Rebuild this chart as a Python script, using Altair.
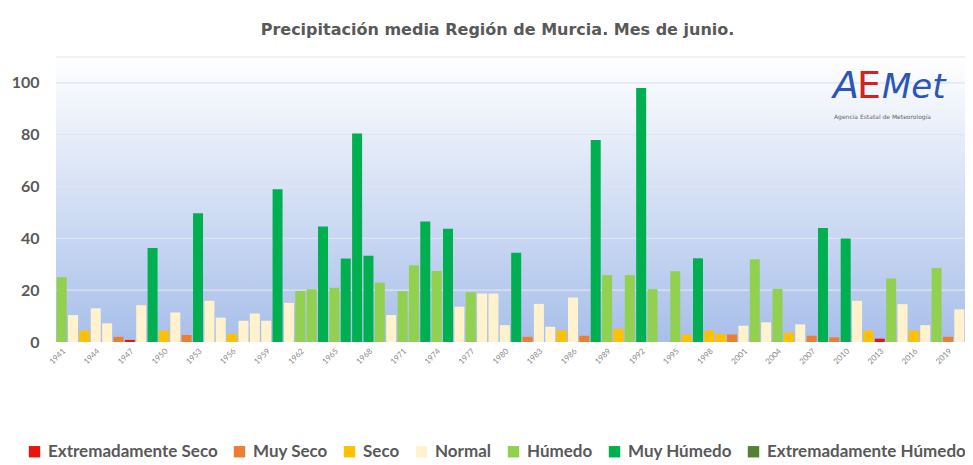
import altair as alt
import pandas as pd

# ---- data ----
years = list(range(1941, 2021))
precip = [25, 10.4, 4.4, 13, 7.2, 2, 0.8, 14.2, 36.3, 4.4,
          11.4, 2.7, 49.7, 15.9, 9.4, 3.1, 8.2, 11, 8.2, 59,
          15.1, 19.7, 20.4, 44.6, 20.9, 32.2, 80.5, 33.3, 22.9, 10.4,
          19.6, 29.6, 46.5, 27.4, 43.7, 13.6, 19.2, 18.7, 18.7, 6.5,
          34.4, 2, 14.7, 5.9, 4.4, 17.2, 2.4, 78, 25.8, 5.1,
          25.8, 98, 20.4, 0, 27.3, 2.9, 32.3, 4.4, 3.1, 2.9,
          6.3, 31.9, 7.6, 20.5, 3.6, 6.8, 2.4, 44, 1.8, 39.9,
          15.9, 4.4, 1.3, 24.5, 14.6, 4.4, 6.5, 28.6, 2, 12.6]
clase = ["H", "N", "S", "N", "N", "MS", "ES", "N", "MH", "S",
         "N", "MS", "MH", "N", "N", "S", "N", "N", "N", "MH",
         "N", "H", "H", "MH", "H", "MH", "MH", "MH", "H", "N",
         "H", "H", "MH", "H", "MH", "N", "H", "N", "N", "N",
         "MH", "MS", "N", "N", "S", "N", "MS", "MH", "H", "S",
         "H", "MH", "H", "ES", "H", "S", "MH", "S", "S", "MS",
         "N", "H", "N", "H", "S", "N", "MS", "MH", "MS", "MH",
         "N", "S", "ES", "H", "N", "S", "N", "H", "MS", "N"]
codes = ["ES", "MS", "S", "N", "H", "MH", "EH"]
categories = ["Extremadamente Seco", "Muy Seco", "Seco", "Normal",
              "Húmedo", "Muy Húmedo", "Extremadamente Húmedo"]
colors = ["#e8140e", "#ed7d31", "#ffc000", "#fff2cc",
          "#92d050", "#00b050", "#548235"]
y_ticks = [0, 20, 40, 60, 80, 100]
grid_lines = [20, 40, 60, 80, 100, 110]
x_ticks = years[::3]
title_text = "Precipitación media Región de Murcia. Mes de junio."
logo_parts = ["A", "E", "Met", "Agencia Estatal de Meteorología"]

names = dict(zip(codes, categories))
df = pd.DataFrame({"year": years, "precip": precip,
                   "clase": [names[c] for c in clase]})

W, H = 909, 285
one = pd.DataFrame({"k": [0]})

grad = alt.LinearGradient(
    gradient="linear",
    stops=[alt.GradientStop(color="#ffffff", offset=0),
           alt.GradientStop(color="#a8bfea", offset=1)],
    x1=0, x2=0, y1=0, y2=1)

yscale = alt.Scale(domain=[0, 110], nice=False)
yaxis = alt.Axis(values=y_ticks, labelFont="Lato", labelFontSize=16,
                 labelFontWeight="bold", labelColor="#595959",
                 domain=False, ticks=False, labelPadding=17, grid=False)

bg = alt.Chart(one).mark_rect(color=grad).encode(
    x=alt.value(0), x2=alt.value(W), y=alt.value(0), y2=alt.value(H))

grid = alt.Chart(pd.DataFrame({"v": grid_lines})).mark_rule(
    color="#dde4ef", strokeWidth=1.2
).encode(y=alt.Y("v:Q", title=None, scale=yscale, axis=yaxis))

bars = alt.Chart(df).mark_bar().encode(
    x=alt.X("year:O", title=None,
            scale=alt.Scale(paddingInner=0.12, paddingOuter=0.06),
            axis=alt.Axis(values=x_ticks, labelAngle=315, labelAlign="right",
                          labelBaseline="top", labelFontSize=8,
                          labelFont="Lato", labelColor="#8a8a8a",
                          domain=False, ticks=False, labelPadding=5,
                          grid=False)),
    y=alt.Y("precip:Q", title=None, scale=yscale, axis=yaxis),
    color=alt.Color("clase:N",
                    scale=alt.Scale(domain=categories, range=colors),
                    legend=alt.Legend(title=None, orient="none",
                                      legendX=-30, legendY=386,
                                      direction="horizontal",
                                      symbolType="square",
                                      symbolSize=130, symbolStrokeWidth=0,
                                      labelFont="Lato", labelFontSize=17,
                                      labelFontWeight="bold",
                                      labelLimit=400,
                                      labelColor="#595959",
                                      columnPadding=13, labelOffset=5)),
)

logo_a = alt.Chart(one).mark_text(
    text=logo_parts[0], font="DejaVu Sans", fontSize=38, fontStyle="italic",
    color="#2b55b8", align="left", baseline="alphabetic"
).encode(x=alt.value(777), y=alt.value(41))
logo_e = alt.Chart(one).mark_text(
    text=logo_parts[1], font="DejaVu Sans", fontSize=38,
    color="#d2231e", align="left", baseline="alphabetic"
).encode(x=alt.value(801), y=alt.value(41))
logo_m = alt.Chart(one).mark_text(
    text=logo_parts[2], font="DejaVu Sans", fontSize=34, fontStyle="italic",
    color="#2b55b8", align="left", baseline="alphabetic"
).encode(x=alt.value(826), y=alt.value(41))
logo_s = alt.Chart(one).mark_text(
    text=logo_parts[3], font="DejaVu Sans", fontSize=6,
    color="#666666", align="left", baseline="middle"
).encode(x=alt.value(778), y=alt.value(60))

chart = alt.layer(bg, grid, bars, logo_a, logo_e, logo_m, logo_s).properties(
    width=W, height=H,
    autosize=alt.AutoSizeParams(type="none"),
    padding={"left": 48, "top": 49, "right": 0, "bottom": 118},
    title=alt.Title(title_text, font="DejaVu Sans", fontSize=16,
                    fontWeight="bold", color="#595959", anchor="middle",
                    offset=18, dx=-13),
).configure_view(stroke=None)

chart.save("out.html", embed_options={"renderer": "svg", "actions": False})
